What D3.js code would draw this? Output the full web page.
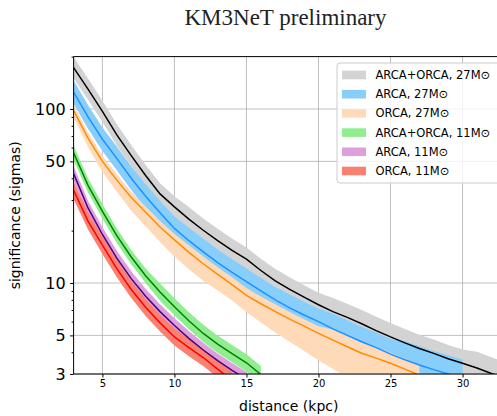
<!DOCTYPE html>
<html><head><meta charset="utf-8">
<script src="https://cdn.jsdelivr.net/npm/d3@7"></script>
<style>body{margin:0;background:#fff} svg{display:block}</style>
</head><body>
<svg id="c" width="497" height="416"></svg>
<script>
// ---------- data ----------
const distance = [3,4,5,6,7,8,9,10,11,12,13,14,15,16,17,18,19,20,21,22,23,24,25,26,27,28,29,30,31,32,33];

// ARCA+ORCA, 27 Msun
const combo27Mid = [173,130,97,71,54,41.5,32.5,27.4,23.3,20.1,17.5,15.4,13.7,11.8,10.3,9.2,8.3,7.5,6.85,6.35,5.83,5.33,4.9,4.53,4.2,3.94,3.67,3.46,3.25,3.02,2.83];
const combo27Hi  = [199,149.5,111.5,81.7,62.1,47.7,37.4,31.5,27.3,23.5,20.5,18.0,16.0,13.8,12.05,10.8,9.7,8.8,8.2,7.6,7.0,6.4,5.9,5.45,5.05,4.73,4.4,4.15,4.03,3.75,3.5];
const combo27Lo  = [150,113,84.3,61.7,47,36.1,28.3,23.8,19.9,17.2,15.0,13.2,11.7,10.1,8.8,7.85,7.1,6.4,5.7,5.3,4.86,4.44,4.08,3.78,3.5,3.28,3.06,2.88,2.62,2.44,2.28];

// ARCA, 27 Msun
const arca27Mid = [125,90,67,52,40,31.5,25.3,20.6,17.5,15.1,13.1,11.5,10.2,9.0,8.0,7.2,6.55,6.0,5.45,5.0,4.6,4.25,3.9,3.62,3.38,3.18,3.0,2.84];
const arca27Hi  = [146,105.3,78.4,60.8,46.8,36.9,29.6,24.1,20.8,18.0,15.6,13.7,12.1,10.7,9.5,8.6,7.8,7.14,6.65,6.1,5.6,5.2,4.76,4.63,4.33,4.07,3.84,3.64];
const arca27Lo  = [107,77,57.3,44.5,34.2,26.9,21.6,17.6,14.7,12.7,11.0,9.66,8.57,7.56,6.72,6.05,5.5,5.04,4.47,4.1,3.77,3.48,3.2,2.83,2.64,2.48,2.34,2.22];

// ORCA, 27 Msun
const orca27Mid = [98,68,50,39,31,25.5,21,17.7,15.0,12.9,11.2,9.8,8.5,7.6,6.85,6.2,5.65,5.14,4.7,4.3,3.95,3.7,3.46,3.2,2.95];
const orca27Hi  = [105.8,73.4,54,42.1,33.5,27.5,22.7,19.1,16.5,14.2,12.3,10.8,9.35,8.36,7.54,6.82,6.2,5.65,5.4,4.95,4.54,4.26,3.98,3.68,3.39];
const orca27Lo  = [89.2,60.5,43.5,33.5,26,21.2,17.2,14.2,12.0,10.3,9.07,7.94,6.8,5.93,5.2,4.59,4.07,3.6,3.2,2.88,2.6,2.44,2.28,2.11,1.95];

// ARCA+ORCA, 11 Msun
const combo11Mid = [56,36.4,25.8,18.7,14.1,11.0,8.87,7.3,6.07,5.13,4.46,3.93,3.48,2.98];
const combo11Hi  = [61.6,40.0,28.4,20.6,15.5,12.1,9.93,8.18,6.8,5.75,5.0,4.4,3.9,3.34];
const combo11Lo  = [50.9,33.1,23.5,17.0,12.8,10.0,7.92,6.52,5.42,4.58,3.98,3.51,3.1,2.66];

// ARCA, 11 Msun
const arca11Mid = [42.6,27.0,19.0,13.9,10.6,8.4,6.85,5.7,4.81,4.12,3.58,3.15,2.8];
const arca11Hi  = [46.9,29.7,20.9,15.3,11.7,9.24,7.54,6.27,5.3,4.53,3.94,3.47,3.08];
const arca11Lo  = [38.7,24.5,17.3,12.6,9.6,7.6,6.2,5.2,4.37,3.75,3.25,2.86,2.55];

// ORCA, 11 Msun
const orca11Mid = [34.1,22.7,16.5,12.1,9.18,7.25,5.9,4.9,4.25,3.73,3.2,2.75];
const orca11Hi  = [38.2,25.4,18.5,13.6,10.3,8.1,6.6,5.5,4.76,4.18,3.58,3.08];
const orca11Lo  = [30.4,20.3,14.7,10.8,8.2,6.47,5.27,4.38,3.8,3.33,2.86,2.46];

const legendLabels = ["ARCA+ORCA, 27M\u2299","ARCA, 27M\u2299","ORCA, 27M\u2299","ARCA+ORCA, 11M\u2299","ARCA, 11M\u2299","ORCA, 11M\u2299"];
const xTicks = [5,10,15,20,25,30];
const yTicks = [3,5,10,50,100];
const yMinor = [4,6,7,8,9,20,30,40,60,70,80,90,200];

const series = [
  {mid:combo27Mid, hi:combo27Hi, lo:combo27Lo, fill:"#d3d3d3", line:"#000000"},
  {mid:arca27Mid,  hi:arca27Hi,  lo:arca27Lo,  fill:"#87cefa", line:"#1e90ff"},
  {mid:orca27Mid,  hi:orca27Hi,  lo:orca27Lo,  fill:"#ffdab9", line:"#ff8c00"},
  {mid:combo11Mid, hi:combo11Hi, lo:combo11Lo, fill:"#90ee90", line:"#008000"},
  {mid:arca11Mid,  hi:arca11Hi,  lo:arca11Lo,  fill:"#dda0dd", line:"#4b0082"},
  {mid:orca11Mid,  hi:orca11Hi,  lo:orca11Lo,  fill:"#fa8072", line:"#ff0000"}
];

// ---------- layout ----------
const L = 73.6, R = 500, T = 56.6, B = 374;
const x = d3.scaleLinear().domain([3, 32.6]).range([L, R]);
const y = d3.scaleLog().domain([3, 200]).range([B, T]);
const svg = d3.select("#c");
const font = "DejaVu Sans, sans-serif";

svg.append("rect").attr("width",497).attr("height",416).attr("fill","#fff");

svg.append("defs").append("clipPath").attr("id","clip")
  .append("rect").attr("x",L).attr("y",T).attr("width",R-L).attr("height",B-T);

// grid
const grid = svg.append("g").attr("stroke","#b0b0b0").attr("stroke-width",0.8);
grid.selectAll("line.v").data(xTicks).join("line").attr("class","v")
  .attr("x1",d=>x(d)).attr("x2",d=>x(d)).attr("y1",T).attr("y2",B);
grid.selectAll("line.h").data(yTicks).join("line").attr("class","h")
  .attr("y1",d=>y(d)).attr("y2",d=>y(d)).attr("x1",L).attr("x2",R);

// bands & lines
const plot = svg.append("g").attr("clip-path","url(#clip)");
series.forEach(s=>{
  const area = d3.area().x((d,i)=>x(distance[i])).y0((d,i)=>y(s.lo[i])).y1((d,i)=>y(s.hi[i]));
  plot.append("path").datum(s.mid).attr("d",area).attr("fill",s.fill).attr("stroke","none");
});
series.forEach(s=>{
  const line = d3.line().x((d,i)=>x(distance[i])).y(d=>y(d));
  plot.append("path").datum(s.mid).attr("d",line).attr("fill","none")
    .attr("stroke",s.line).attr("stroke-width",1.5);
});

// spines
svg.append("line").attr("x1",L).attr("x2",R).attr("y1",T).attr("y2",T).attr("stroke","#000").attr("stroke-width",1);
svg.append("line").attr("x1",L).attr("x2",R).attr("y1",B).attr("y2",B).attr("stroke","#000").attr("stroke-width",1);
svg.append("line").attr("x1",L).attr("x2",L).attr("y1",T).attr("y2",B).attr("stroke","#000").attr("stroke-width",1);

// x axis
const xa = svg.append("g").attr("transform",`translate(0,${B})`)
  .call(d3.axisBottom(x).tickValues(xTicks).tickSize(3.5).tickPadding(2).tickFormat(d3.format("d")));
xa.select(".domain").remove();
xa.selectAll("text").attr("font-family",font).attr("font-size",10).attr("fill","#000");

// y axis major
const ya = svg.append("g").attr("transform",`translate(${L},0)`)
  .call(d3.axisLeft(y).tickValues(yTicks).tickSize(3.5).tickPadding(4.5).tickFormat(d3.format("d")));
ya.select(".domain").remove();
ya.selectAll("text").attr("font-family",font).attr("font-size",16).attr("fill","#000");
// y axis minor
const ym = svg.append("g").attr("transform",`translate(${L},0)`)
  .call(d3.axisLeft(y).tickValues(yMinor).tickSize(2).tickFormat(""));
ym.select(".domain").remove();

// axis labels
svg.append("text").attr("x",(L+R)/2 + 2).attr("y",411).attr("text-anchor","middle")
  .attr("font-family",font).attr("font-size",14).text("distance (kpc)");
svg.append("text").attr("transform",`translate(20,${(T+B)/2}) rotate(-90)`).attr("text-anchor","middle")
  .attr("font-family",font).attr("font-size",14).text("significance (sigmas)");

// title
svg.append("text").attr("x",285.5).attr("y",25).attr("text-anchor","middle")
  .attr("font-family","Liberation Serif, Times New Roman, serif").attr("font-size",23)
  .attr("fill","#222").text("KM3NeT preliminary");

// legend
const lg = svg.append("g");
lg.append("rect").attr("x",337).attr("y",63).attr("width",170).attr("height",120)
  .attr("rx",3).attr("fill","#fff").attr("fill-opacity",0.8).attr("stroke","#cccccc").attr("stroke-width",1);
legendLabels.forEach((lab,i)=>{
  const cy = 75 + i*19.2;
  lg.append("rect").attr("x",342).attr("y",cy-4.3).attr("width",24).attr("height",8.6).attr("fill",series[i].fill);
  lg.append("text").attr("x",375.5).attr("y",cy).attr("dy","0.35em")
    .attr("font-family",font).attr("font-size",11.5).attr("fill","#000").text(lab);
});
</script>
</body></html>
